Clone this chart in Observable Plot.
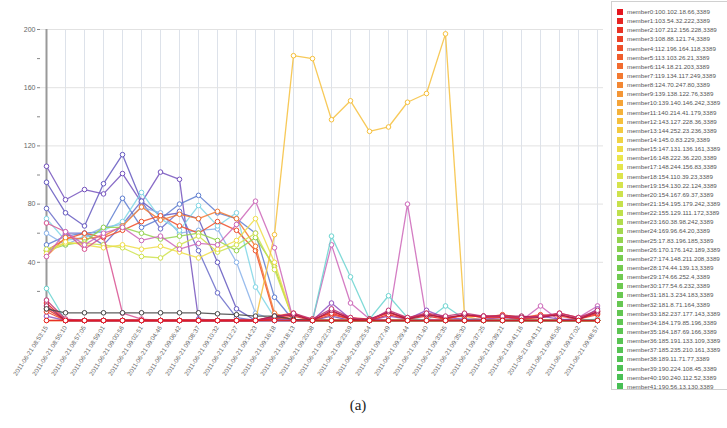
<!DOCTYPE html>
<html><head><meta charset="utf-8">
<script src="https://cdn.jsdelivr.net/npm/d3@7"></script>
<script src="https://cdn.jsdelivr.net/npm/@observablehq/plot@0.6"></script>
<style>
body{margin:0;background:#fff;width:727px;height:428px;overflow:hidden;position:relative;font-family:"Liberation Sans",Arial,sans-serif}
#chart{position:absolute;left:0;top:0}
#legend{position:absolute;left:611px;top:1px;width:118px;height:389px;border:1px solid #d0d0d0;overflow:hidden;box-sizing:border-box;padding-top:5px}
.item{height:9.15px;display:flex;align-items:center;font-size:6.2px;color:#555;white-space:nowrap}
.sw{width:6px;height:6px;margin:0 4px 0 5px;flex:none}
#cap{position:absolute;top:397px;left:0;width:716px;text-align:center;font-family:"Liberation Serif","Times New Roman",serif;font-size:15px;color:#222}
</style></head><body>
<div id="chart"></div><div id="legend"></div><div id="cap">(a)</div>
<script>
// ---- categories (x) ----
const times = ["2011-06-21 08:53:15","2011-06-21 08:55:10","2011-06-21 08:57:05","2011-06-21 08:59:01","2011-06-21 09:00:56","2011-06-21 09:02:51","2011-06-21 09:04:46","2011-06-21 09:06:42","2011-06-21 09:08:37","2011-06-21 09:10:32","2011-06-21 09:12:27","2011-06-21 09:14:23","2011-06-21 09:16:18","2011-06-21 09:18:13","2011-06-21 09:20:08","2011-06-21 09:22:04","2011-06-21 09:23:59","2011-06-21 09:25:54","2011-06-21 09:27:49","2011-06-21 09:29:44","2011-06-21 09:31:40","2011-06-21 09:33:35","2011-06-21 09:35:30","2011-06-21 09:37:25","2011-06-21 09:39:21","2011-06-21 09:41:16","2011-06-21 09:43:11","2011-06-21 09:45:06","2011-06-21 09:47:02","2011-06-21 09:48:57"];

// ---- legend labels ----
const memberLabels = ["member0:100.102.18.66,3389","member1:103.54.32.222,3389","member2:107.212.156.228,3389","member3:108.88.121.74,3389","member4:112.196.164.118,3389","member5:113.103.26.21,3389","member6:114.18.21.203,3389","member7:119.134.117.249,3389","member8:124.70.247.80,3389","member9:139.138.122.76,3389","member10:139.140.146.242,3389","member11:140.214.41.179,3389","member12:143.127.228.36,3389","member13:144.252.23.236,3389","member14:145.0.83.229,3389","member15:147.131.136.161,3389","member16:148.222.36.220,3389","member17:148.244.156.83,3389","member18:154.110.39.23,3389","member19:154.130.22.124,3389","member20:154.167.69.37,3389","member21:154.195.179.242,3389","member22:155.129.111.172,3389","member23:160.38.98.242,3389","member24:169.96.64.20,3389","member25:17.83.196.185,3389","member26:170.176.142.189,3389","member27:174.148.211.208,3389","member28:174.44.139.13,3389","member29:174.66.252.4,3389","member30:177.54.6.232,3389","member31:181.3.234.183,3389","member32:181.8.71.164,3389","member33:182.237.177.143,3389","member34:184.179.85.196,3389","member35:184.187.69.166,3389","member36:185.191.133.109,3389","member37:185.235.210.161,3389","member38:189.11.71.77,3389","member39:190.224.108.45,3389","member40:190.240.112.52,3389","member41:190.56.13.130,3389"];

// ---- series values (one array per member) ----
const m0  = [0,0,0,0,0,0,0,0,0,0,0,0,0,0,0,0,0,0,0,0,0,0,0,0,0,0,0,0,0,0];
const m1  = [12,0,0,0,0,0,0,0,0,0,0,0,2,4,1,5,1,0,4,1,3,1,4,2,2,2,3,4,1,5];
const m2  = [8,0,0,0,0,0,0,0,0,0,0,0,1,3,0,6,2,1,5,2,4,2,3,3,3,1,2,5,2,6];
const m3  = [6,0,0,0,0,0,0,0,0,0,0,0,3,5,0,4,1,0,6,1,5,1,4,2,4,2,4,3,1,4];
const m4  = [48,56,60,57,62,68,72,65,60,68,62,48,3,0,0,0,0,0,0,0,0,0,0,0,0,0,0,0,0,0];
const m7  = [44,57,56,58,65,78,69,73,70,75,70,51,5,0,0,0,0,0,0,0,0,0,0,0,0,0,0,0,0,0];
const m12 = [0,0,0,0,0,0,0,0,0,0,0,0,59,182,180,138,151,130,133,150,156,197,3,0,0,0,0,0,0,0];
const m15 = [46,54,52,50,52,49,51,47,43,49,55,70,40,0,0,0,0,0,0,0,0,0,0,0,0,0,0,0,0,0];
const m20 = [49,53,53,52,50,44,43,52,58,47,52,60,35,0,0,0,0,0,0,0,0,0,0,0,0,0,0,0,0,0];
const m25 = [48,52,54,64,64,60,56,58,60,55,48,57,37,0,0,0,0,0,0,0,0,0,0,0,0,0,0,0,0,0];
const m43 = [22,0,0,0,0,0,0,0,0,0,0,0,0,0,0,58,30,1,17,2,0,10,1,0,0,0,0,0,0,1];
const m44 = [70,55,57,62,68,88,70,62,79,65,74,23,2,0,0,0,0,0,0,0,0,0,0,0,0,0,0,0,0,0];
const m45 = [60,52,58,64,66,78,74,60,62,63,40,5,0,0,0,0,0,0,0,0,0,0,0,0,0,0,0,0,0,0];
const m46 = [52,58,60,61,84,64,70,80,86,74,70,60,16,0,0,0,0,0,0,0,0,0,0,0,0,0,0,0,0,0];
const m47 = [77,60,60,52,66,82,63,75,48,19,2,0,0,0,0,0,0,0,0,0,0,0,0,0,0,0,0,0,0,0];
const m48 = [95,74,65,94,114,82,72,74,70,40,8,0,0,0,0,0,0,0,0,0,0,0,0,0,0,0,0,0,0,0];
const m49 = [106,83,90,87,101,81,102,97,1,0,0,0,0,0,0,3,0,0,0,0,0,0,0,0,0,0,0,0,0,0];
const m50 = [3,0,0,0,0,0,0,0,0,0,0,0,1,0,0,12,1,0,3,1,7,2,1,1,2,1,3,1,0,8];
const m51 = [44,61,52,60,64,55,58,49,53,52,66,82,50,0,0,52,12,1,0,80,1,0,0,0,0,0,10,0,2,10];
const m53 = [67,61,49,58,5,1,0,0,0,0,0,0,0,0,0,0,0,0,0,0,0,0,0,0,0,0,0,0,0,0];
const m54 = [14,1,0,0,0,0,0,0,0,0,0,0,2,5,1,8,2,0,7,2,5,3,5,3,3,2,3,5,2,7];
const m55 = [10,0,0,0,0,0,0,0,0,0,0,0,3,4,0,7,1,1,6,1,4,2,4,3,3,3,2,4,1,6];
const m56 = [8,5.3,5.3,5.3,5.3,5.3,5.3,5.3,5.3,4.6,4,3,3,0.7,0,0,0,0,0,0,0,0,0,0,0,0,0,0,0,0];

// drawing order (back to front)
const seriesOrder = [
  [48,m48],[49,m49],[47,m47],[46,m46],[45,m45],[44,m44],[4,m4],[7,m7],[25,m25],[20,m20],[15,m15],[53,m53],[51,m51],[12,m12],
  [43,m43],[50,m50],[3,m3],[2,m2],[1,m1],[55,m55],[54,m54],[56,m56],[0,m0]
];

// ---- palette (style) ----
const legendRamp = d3.scaleLinear().domain([0,6,12,16,22,27,41])
  .range(["#e5161f","#f26b2f","#f6c03c","#ece64c","#bfe04c","#78cc50","#48bf55"]).interpolate(d3.interpolateRgb);
const extraColors = ["#5cc8a0","#6ad4d0","#7fd6e6","#88b2ea","#5d7dd0","#6a6cc9","#6458c0","#7452bd","#9050c0","#cc66b8","#d060b0","#d85090","#c03070","#a01850","#444444"];
const palette = [...d3.range(42).map(i => d3.color(legendRamp(i)).formatHex()), ...extraColors];
const memberNames = palette.map((_, i) => "member" + i);

const rowsFor = (id, vals) => vals.map((v, i) => ({t: times[i], v, m: "member" + id}));

const marks = [
  Plot.gridX(times, {stroke: "#dde2ea", strokeOpacity: 1}),
  Plot.gridY([40,80,120,160,200], {stroke: "#e2e2e2", strokeOpacity: 1}),
  Plot.axisY({ticks: d3.range(20, 201, 20), tickFormat: d => d % 40 === 0 ? d : "", tickSize: 3, tickPadding: 2, fontSize: 7, fill: "#666", stroke: "#888"}),
  Plot.axisX({tickRotate: -57, tickSize: 0, tickPadding: 6, fontSize: 6.3, fill: "#666"}),
  Plot.ruleX([times[0]], {stroke: "#999", strokeWidth: 2})
];
for (const [id, vals] of seriesOrder) {
  const rows = rowsFor(id, vals);
  marks.push(Plot.line(rows, {x: "t", y: "v", stroke: "m", strokeWidth: 1.3, strokeOpacity: 0.85}));
  marks.push(Plot.dot(rows, {x: "t", y: "v", stroke: "m", fill: "white", r: 2.3, strokeWidth: 1}));
}

const chart = Plot.plot({
  width: 610, height: 398,
  marginLeft: 40, marginRight: 7, marginTop: 29, marginBottom: 78,
  style: {fontFamily: "'Liberation Sans', Arial, sans-serif", background: "transparent"},
  x: {type: "point", domain: times, padding: 0, label: null},
  y: {domain: [0, 200], label: null},
  color: {domain: memberNames, range: palette},
  marks
});
document.getElementById("chart").append(chart);

// legend
const leg = document.getElementById("legend");
memberLabels.forEach((lab, i) => {
  const row = document.createElement("div"); row.className = "item";
  const sw = document.createElement("span"); sw.className = "sw"; sw.style.background = palette[i];
  const tx = document.createElement("span"); tx.textContent = lab;
  row.append(sw, tx); leg.append(row);
});
</script></body></html>
